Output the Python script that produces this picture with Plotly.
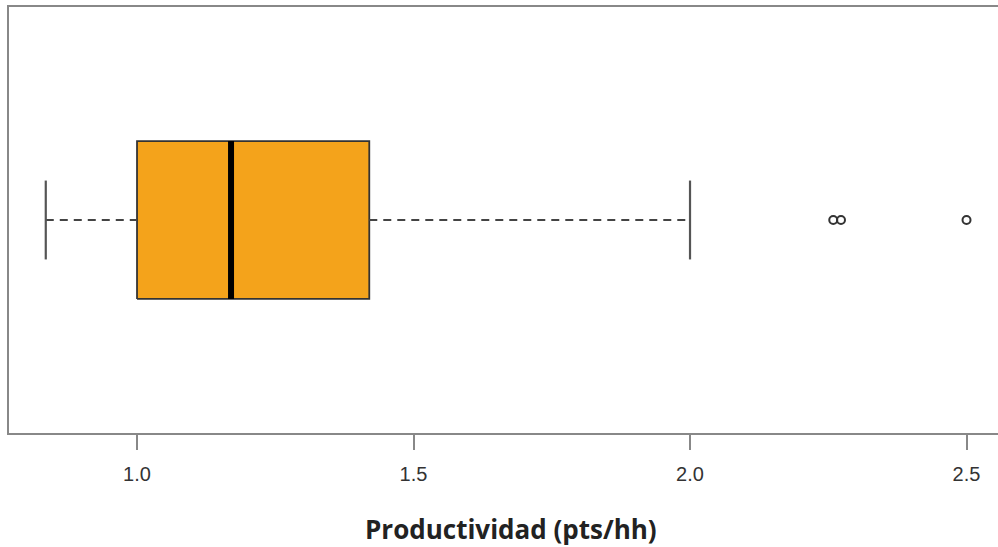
import plotly.graph_objects as go

# Five-number summary and outliers of productivity (pts/hh)
stats_labels = ["lower_whisker", "q1", "median", "q3", "upper_whisker"]
stats_values = [0.835, 1.0, 1.17, 1.42, 2.0]
outliers = [2.259, 2.273, 2.5]
tick_values = [1.0, 1.5, 2.0, 2.5]
tick_labels = ["1.0", "1.5", "2.0", "2.5"]
axis_title = "Productividad (pts/hh)"

lo, q1, med, q3, hi = stats_values
center = 1.0
half_box = 0.2
half_cap = 0.1

box_fill = "#F4A31B"
edge = "#333333"

fig = go.Figure()

# Box body
fig.add_trace(go.Scatter(
    x=[q1, q3, q3, q1, q1],
    y=[center - half_box, center - half_box, center + half_box, center + half_box, center - half_box],
    mode="lines", fill="toself", fillcolor=box_fill,
    line=dict(color=edge, width=1.8), hoverinfo="skip"))

# Whiskers (dashed)
for a, b in [(lo, q1), (q3, hi)]:
    fig.add_trace(go.Scatter(x=[a, b], y=[center, center], mode="lines",
                             line=dict(color="#444444", width=2.2, dash="8px,6px"),
                             hoverinfo="skip"))

# Whisker caps
for v in [lo, hi]:
    fig.add_trace(go.Scatter(x=[v, v], y=[center - half_cap, center + half_cap],
                             mode="lines", line=dict(color="#555555", width=2.2),
                             hoverinfo="skip"))

# Median
fig.add_trace(go.Scatter(x=[med, med], y=[center - half_box, center + half_box],
                         mode="lines", line=dict(color="black", width=6),
                         hoverinfo="skip"))

# Outliers
fig.add_trace(go.Scatter(x=outliers, y=[center] * len(outliers), mode="markers",
                         marker=dict(symbol="circle-open", size=8, color="#333333",
                                     line=dict(color="#333333", width=2)),
                         hoverinfo="skip"))

fig.update_layout(
    width=998, height=547,
    margin=dict(l=9, r=0, t=7, b=114),
    paper_bgcolor="white", plot_bgcolor="white",
    showlegend=False,
    xaxis=dict(range=[0.7685, 0.7685 + 989 / 553], tickvals=tick_values,
               ticktext=tick_labels, ticks="outside", ticklen=15, tickwidth=2,
               tickcolor="#888888", showgrid=False, zeroline=False,
               showline=True, linecolor="#888888", linewidth=2, mirror=True,
               ticklabelstandoff=7,
               tickfont=dict(family="Arial, Liberation Sans", size=20, color="#333333")),
    yaxis=dict(range=[0.46, 1.54], showticklabels=False, ticks="", showgrid=False,
               zeroline=False, showline=True, linecolor="#888888", linewidth=2),
    annotations=[dict(text="<b>" + axis_title + "</b>", xref="paper", yref="paper",
                      x=(511 - 9) / 989, y=-(529 - 433) / 426, xanchor="center",
                      yanchor="middle", showarrow=False,
                      font=dict(family="Open Sans", size=26, color="#222222"))],
)

fig.write_html("out.html")
